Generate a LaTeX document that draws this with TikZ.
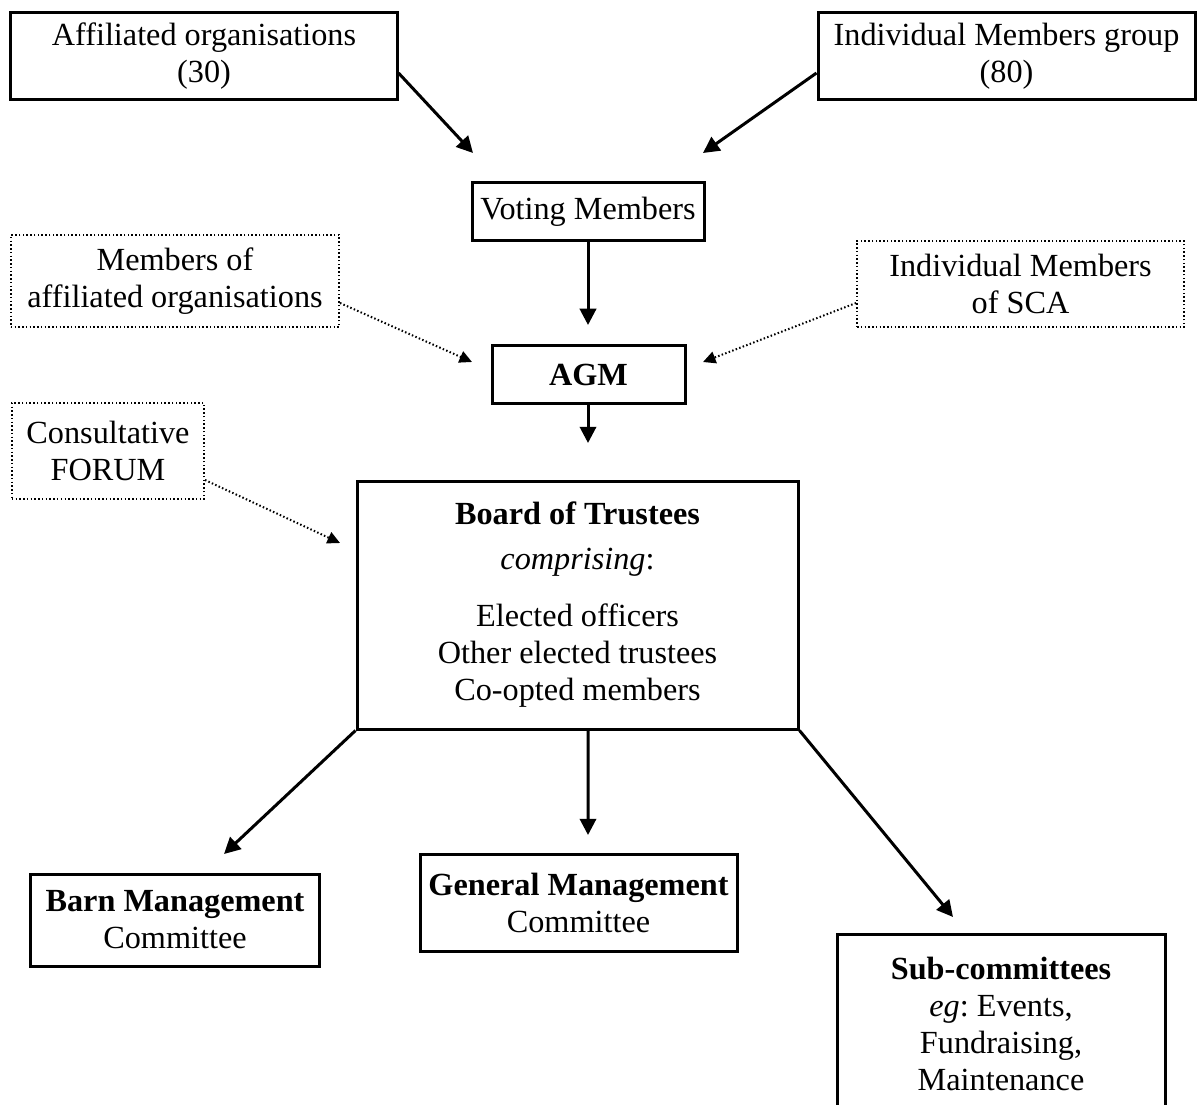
\documentclass[tikz,border=0pt]{standalone}
\usepackage{fontspec}
\setmainfont{Liberation Serif}
\usetikzlibrary{arrows.meta}
\frenchspacing

\tikzset{
	box/.style={draw,rectangle,line width=1.2pt,inner sep=0pt,align=center,font=\fontsize{12.9}{14.8}\selectfont},
	dotbox/.style={box,line width=0.8pt,dash pattern=on 0.6pt off 0.9pt},
	link/.style={line width=1.2pt,-{Triangle[length=6.5pt,width=6.5pt]}},
	dotlink/.style={line width=0.8pt,dash pattern=on 0.6pt off 0.9pt,-{Triangle[length=5pt,width=4.8pt]}}
}

\begin{document}
\begin{tikzpicture}[x=0.4pt,y=-0.4pt]
	\useasboundingbox (0,0) rectangle (1197,1104);
	        \node[box,minimum width=154.4pt,minimum height=34.8pt] at (204,56.5) (affil) {Affiliated organisations\\(30)};
	        \node[box,minimum width=150.8pt,minimum height=34.8pt] at (1006.5,56.5) (indiv) {Individual Members group\\(80)};
	        \node[box,minimum width=92.8pt,minimum height=23.2pt] at (588,212) (voting) {Voting Members};
	        \node[box,minimum width=77.2pt,minimum height=22.8pt] at (588.5,374.5) (agm) {\textbf{AGM}};
	        \node[dotbox,minimum width=131.2pt,minimum height=36.8pt] at (175,281) (memaff) {Members of\\affiliated organisations};
	        \node[dotbox,minimum width=130.8pt,minimum height=34.4pt] at (1020.5,284) (memsca) {Individual Members\\of SCA};
	        \node[dotbox,minimum width=76.8pt,minimum height=38.4pt] at (108,451) (forum) {Consultative\\FORUM};
	        \node[box,minimum width=176.4pt,minimum height=99.2pt] at (577.5,605) (board) {\textbf{Board of Trustees}\\[3.2pt]\textit{comprising}:\\[8pt]Elected officers\\Other elected trustees\\Co-opted members};
	        \node[box,minimum width=115.2pt,minimum height=36.8pt] at (175,920) (barn) {\textbf{Barn Management}\\Committee};
	        \node[box,minimum width=126.8pt,minimum height=38.8pt] at (578.5,902.5) (genman) {\textbf{General Management}\\Committee};
	        \node[box,minimum width=131.2pt,minimum height=71.2pt] at (1001,1023.5) (subcom) {\textbf{Sub-committees}\\\textit{eg}: Events,\\Fundraising,\\Maintenance};

	        % arrow tips stop short of the boxes
	        \coordinate (vl) at (473,153);
	        \coordinate (vr) at (703,153);
	        \coordinate (vd) at (588,325);
	        \coordinate (al) at (472,362);
	        \coordinate (ar) at (703,362);
	        \coordinate (ad) at (588,443);
	        \coordinate (bl) at (340,543);
	        \coordinate (dl) at (224,854);
	        \coordinate (dm) at (588,835);
	        \coordinate (dr) at (953,917);

			\path[link] ([yshift=-6.6pt]affil.east) edge (vl)
							([yshift=-6.6pt]indiv.west) edge (vr)
							(voting.south) edge (vd)
							([xshift=-0.2pt]agm.south) edge (ad)
							(board.south west) edge (dl)
							([xshift=4.2pt]board.south) edge (dm)
							(board.south east) edge (dr);
			\path[dotlink] ([yshift=-8.8pt]memaff.east) edge (al)
							([yshift=-7.6pt]memsca.west) edge (ar)
							([yshift=-11.6pt]forum.east) edge (bl);
		\end{tikzpicture}
\end{document}
